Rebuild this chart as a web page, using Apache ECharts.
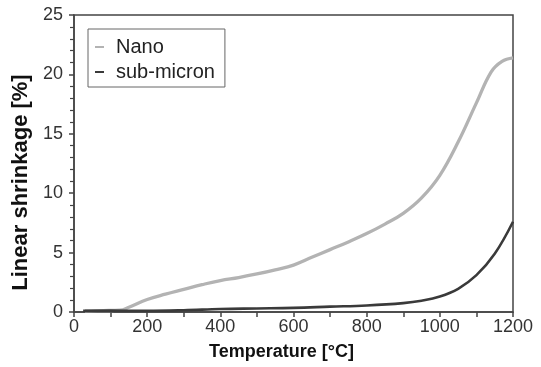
<!DOCTYPE html>
<html><head><meta charset="utf-8">
<script src="https://cdn.jsdelivr.net/npm/echarts@6/dist/echarts.min.js"></script>
<style>html,body{margin:0;padding:0;background:#fff}#c{width:541px;height:367px}</style>
</head><body><div id="c"></div>
<script>
const seriesNames = ["Nano", "sub-micron"];
const nanoTemp   = [30, 80, 126, 150, 200, 250, 300, 350, 400, 450, 500, 550, 600, 650, 700, 750, 800, 850, 900, 950, 1000, 1050, 1100, 1140, 1170, 1200];
const nanoShrink = [0.1, 0.12, 0.15, 0.4, 1.05, 1.5, 1.9, 2.3, 2.65, 2.9, 3.2, 3.55, 3.95, 4.6, 5.25, 5.9, 6.6, 7.4, 8.3, 9.6, 11.5, 14.3, 17.6, 20.2, 21.1, 21.4];
const subTemp    = [25, 100, 200, 300, 400, 500, 600, 700, 800, 900, 950, 1000, 1050, 1100, 1150, 1200];
const subShrink  = [0.1, 0.12, 0.1, 0.15, 0.25, 0.3, 0.35, 0.45, 0.55, 0.75, 0.95, 1.3, 1.95, 3.1, 4.9, 7.6];
const xTicks = [0, 200, 400, 600, 800, 1000, 1200];
const yTicks = [0, 5, 10, 15, 20, 25];

const pair = (xs, ys) => xs.map((x, i) => [x, ys[i]]);
const chart = echarts.init(document.getElementById('c'));
const font = 'Liberation Sans, Arial, sans-serif';
chart.setOption({
  animation: false,
  grid: { left: 74, right: 28, top: 15, bottom: 55, show: true, borderColor: '#444', borderWidth: 1.5 },
  legend: {
    data: seriesNames, orient: 'vertical', left: 88, top: 29,
    padding: [8, 10, 5, 7], itemGap: 5,
    borderColor: '#666', borderWidth: 1, backgroundColor: '#fff',
    icon: 'rect', itemWidth: 9, itemHeight: 2,
    textStyle: { fontFamily: font, fontSize: 20, color: '#222', padding: [0, 0, 0, 7] }
  },
  xAxis: {
    type: 'value', min: xTicks[0], max: xTicks[xTicks.length - 1], interval: 200,
    name: 'Temperature [°C]', nameLocation: 'middle', nameGap: 31,
    nameTextStyle: { fontFamily: font, fontSize: 18, fontWeight: 'bold', color: '#111', padding: [0, 24, 0, 0] },
    axisLine: { lineStyle: { color: '#444', width: 1.5 } },
    axisTick: { inside: false, length: 5, lineStyle: { color: '#444', width: 1.5 } },
    minorTick: { show: true, splitNumber: 2, length: 5, lineStyle: { color: '#444', width: 1.5 } },
    axisLabel: { fontFamily: font, fontSize: 18, color: '#333', margin: 6, formatter: v => String(v) },
    splitLine: { show: false }
  },
  yAxis: {
    type: 'value', min: yTicks[0], max: yTicks[yTicks.length - 1], interval: 5,
    name: 'Linear shrinkage [%]', nameLocation: 'middle', nameGap: 38,
    nameTextStyle: { fontFamily: font, fontSize: 22, fontWeight: 'bold', color: '#111', padding: [0, 38, 0, 0] },
    axisLine: { lineStyle: { color: '#444', width: 1.5 } },
    axisTick: { length: 5, lineStyle: { color: '#444', width: 1.5 } },
    minorTick: { show: true, splitNumber: 5, length: 4, lineStyle: { color: '#444', width: 1.2 } },
    axisLabel: { fontFamily: font, fontSize: 18, color: '#333', margin: 11, formatter: v => String(v) },
    splitLine: { show: false }
  },
  series: [
    { name: seriesNames[0], type: 'line', smooth: 0.4, showSymbol: false, data: pair(nanoTemp, nanoShrink),
      itemStyle: { color: '#b3b3b3' }, lineStyle: { color: '#b3b3b3', width: 3.3 }, z: 2 },
    { name: seriesNames[1], type: 'line', smooth: 0.4, showSymbol: false, data: pair(subTemp, subShrink),
      itemStyle: { color: '#3a3a3a' }, lineStyle: { color: '#3a3a3a', width: 2.6 }, z: 3 }
  ]
});
</script></body></html>
